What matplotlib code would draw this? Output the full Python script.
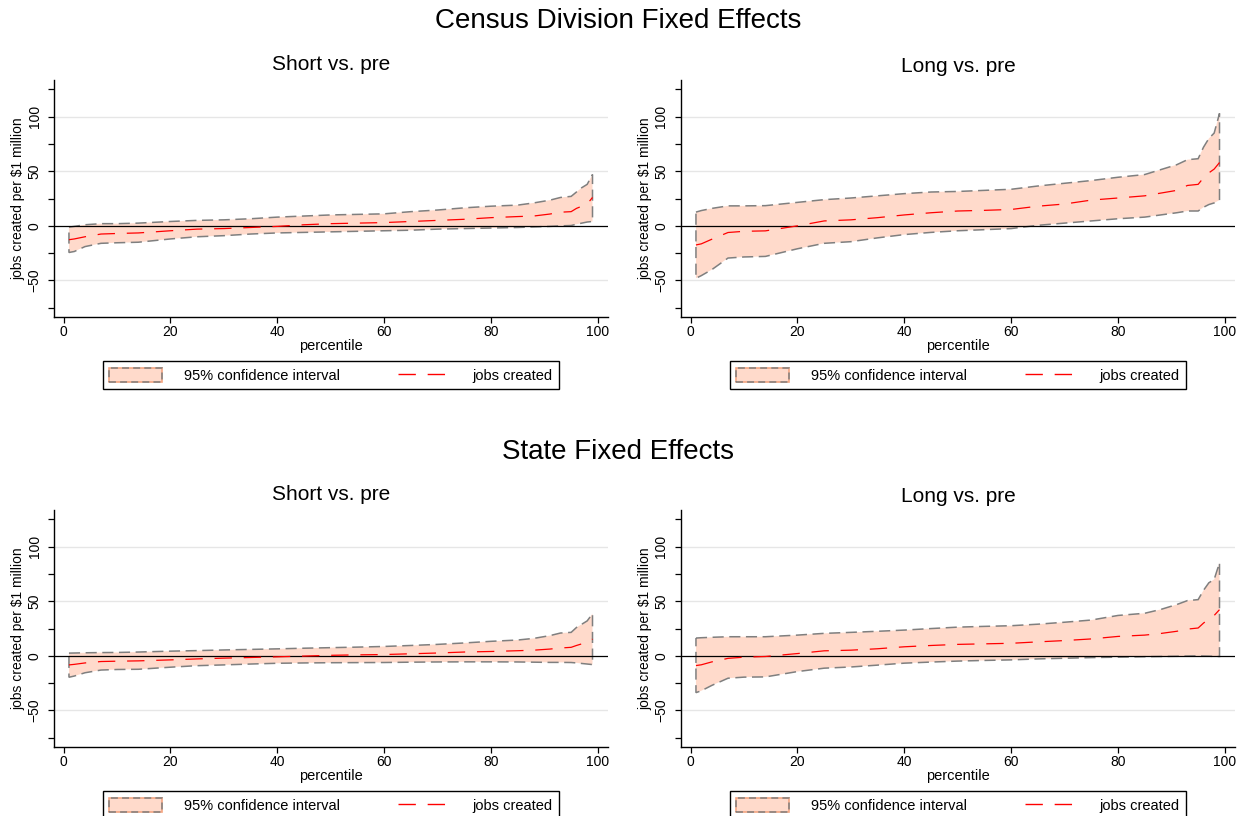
import matplotlib
matplotlib.use('Agg')
from matplotlib import pyplot as plt
from matplotlib.patches import Patch
from matplotlib.lines import Line2D
from matplotlib.legend_handler import HandlerTuple

plt.rcParams['font.family'] = ['Liberation Sans', 'DejaVu Sans']
plt.rcParams['lines.scale_dashes'] = False

pct = [1, 2, 4, 7, 10, 14, 20, 25, 30, 35, 40, 45, 50, 55, 60, 65, 70, 75, 80, 85, 88, 91, 93, 95, 96, 97, 98, 99]

# Census division fixed effects, short vs. pre
cd_short_mid = [-12.7, -12, -10, -7.5, -7, -6.5, -4.5, -3, -2.5, -1.5, -0.5, 1, 2, 2.5, 3, 4, 5, 6, 7.5, 8.5, 9, 10.8, 12.5, 13, 16, 18, 20, 26]
cd_short_lo = [-24.4, -23.5, -19, -16, -15.5, -15, -12, -10, -9, -7.5, -6.5, -6, -5.5, -5, -4.5, -4, -3, -2.5, -2, -1.5, -1, -0.5, 0, 0.3, 1.5, 2.5, 3.5, 4]
cd_short_hi = [-1.2, -0.5, 1, 2, 2, 2.5, 4, 5, 5.5, 6.5, 8, 9, 10, 10.5, 11, 13, 14.5, 16.5, 18, 19, 21, 23.5, 26, 27, 31, 35, 38, 47]

# Census division fixed effects, long vs. pre
cd_long_mid = [-17.5, -16.5, -12.2, -6.1, -5, -4.6, 0, 4.5, 5.5, 7.5, 10, 12, 13.6, 14.2, 15, 18, 20, 23.6, 25.5, 27.5, 30, 32.5, 37, 38, 44, 48.5, 52, 58]
cd_long_lo = [-48, -45.6, -40, -29.5, -28.5, -28, -21, -16, -14.5, -11, -8, -6, -4.5, -3.5, -2.5, 0.5, 2.5, 4.5, 6.5, 8, 10, 12, 13.6, 13.6, 17, 19.5, 21, 23.6]
cd_long_hi = [12.6, 14, 16, 18.3, 18.3, 18.5, 21.5, 24, 25.5, 27.5, 29.5, 31, 31.5, 32.5, 33.5, 36.5, 39, 41.5, 44.5, 47, 51.5, 56, 60.6, 61.5, 72, 80, 85, 103]

# State fixed effects, short vs. pre
st_short_mid = [-8.3, -7.8, -6.5, -5.2, -4.9, -4.6, -3.7, -2.8, -2.1, -1.5, -0.9, -0.2, 0.5, 0.9, 1.2, 1.9, 2.6, 3.5, 4, 4.7, 5.2, 6.2, 7.2, 7.8, 9.5, 11, 12.5, 15.3]
st_short_lo = [-19.6, -18.5, -15.5, -13, -12.5, -12.3, -10.4, -9, -8.3, -7.5, -6.8, -6.5, -6.3, -6.2, -6.1, -5.8, -5.6, -5.5, -5.5, -5.6, -5.8, -6, -6, -6.1, -6.5, -7, -7.5, -8]
st_short_hi = [2.5, 2.6, 2.8, 3, 3.1, 3.5, 4.3, 4.8, 5.4, 5.9, 6.4, 7, 7.5, 8, 8.6, 9.5, 10.5, 11.8, 13.3, 14.5, 16, 18.5, 20.9, 21.5, 26, 29, 32, 38.6]

# State fixed effects, long vs. pre
st_long_mid = [-8.9, -8.2, -5.5, -2.3, -1.2, -0.6, 2.1, 4.6, 5.2, 6.5, 8.3, 9.5, 10.5, 11, 11.5, 12.8, 14, 15.5, 17.8, 19, 20.5, 22.5, 24.5, 25.5, 30, 33.7, 37, 42.3]
st_long_lo = [-33.7, -32, -27, -20.5, -19.5, -19.3, -14.4, -11.3, -10.2, -8.5, -6.7, -5.7, -4.8, -4.2, -3.7, -2.8, -2.2, -1.6, -1.2, -0.8, -0.6, -0.4, -0.2, 0, -0.2, -0.3, -0.5, -0.6]
st_long_hi = [16.3, 16.6, 17, 17.5, 17.5, 17.5, 19, 20.6, 21.5, 22.5, 23.6, 25, 26.3, 27, 27.6, 29, 30.8, 32.8, 37, 39, 42.5, 47, 50.6, 51.5, 60, 66.9, 70, 85.3]

band_color = '#FFDACB'
W, H = 1237, 816


def draw_panel(rect, title, title_y, mid, lo, hi):
    ax = fig.add_axes(rect)
    ax.fill(pct + pct[::-1], hi + lo[::-1], facecolor=band_color, edgecolor='#7f7f7f',
            linewidth=1.1, linestyle=(0, (8, 4)), zorder=2)
    ax.axhline(0, color='black', linewidth=0.9, zorder=3)
    ax.plot(pct, mid, color='red', linewidth=0.9, linestyle=(0, (12.5, 8.5)), zorder=4)

    for y in [-50, 50, 100]:
        ax.axhline(y, color='#e6e6e6', linewidth=1, zorder=1)

    ax.set_xlim(-1.8, 101.9)
    ax.set_ylim(-83.5, 133.6)
    ax.set_xticks([0, 20, 40, 60, 80, 100])
    ax.set_yticks([-50, 0, 50, 100])
    ax.set_yticks([-75, -25, 25, 75, 125], minor=True)
    ax.tick_params(axis='x', labelsize=10, length=4, width=0.9, pad=2)
    ax.tick_params(axis='y', which='both', labelsize=10, length=4, width=0.9, pad=5)
    plt.setp(ax.get_yticklabels(), rotation=90, va='center')

    for side in ['top', 'right']:
        ax.spines[side].set_visible(False)
    for side in ['left', 'bottom']:
        ax.spines[side].set_linewidth(1.0)

    ax.set_xlabel('percentile', fontsize=10.5)
    ax.xaxis.set_label_coords(0.5, -0.093)
    ax.set_ylabel('jobs created per $1 million', fontsize=10)
    ax.yaxis.set_label_coords(-0.052, 0.5)
    ax.text(0.5, title_y, title, transform=ax.transAxes, ha='center', va='center', fontsize=15)

    band_handle = (Patch(facecolor=band_color, edgecolor='#f4a582', linewidth=1.2),
                   Patch(fill=False, edgecolor='#7f7f7f', linewidth=1.1, linestyle=(0, (5, 3))))
    line_handle = Line2D([], [], color='red', linewidth=1.0, linestyle=(0, (12.5, 8.5)))
    leg = ax.legend([band_handle, line_handle], ['95% confidence interval', 'jobs created'],
                    handler_map={tuple: HandlerTuple(ndivide=1, pad=0)},
                    loc='center', bbox_to_anchor=(0.5, -0.245), ncol=2, fontsize=10.5,
                    handlelength=3.6, handleheight=1.1, handletextpad=1.5, columnspacing=4.0,
                    borderpad=0.45, frameon=True, fancybox=False, framealpha=1)
    leg.get_frame().set_edgecolor('black')
    leg.get_frame().set_linewidth(1.0)
    return ax


fig = plt.figure(figsize=(W / 100, H / 100), dpi=100)

aw, ah = 554 / W, 237 / H
draw_panel([54 / W, 499 / H, aw, ah], 'Short vs. pre', 1.0675, cd_short_mid, cd_short_lo, cd_short_hi)
draw_panel([681 / W, 499 / H, aw, ah], 'Long vs. pre', 1.055, cd_long_mid, cd_long_lo, cd_long_hi)
draw_panel([54 / W, 69 / H, aw, ah], 'Short vs. pre', 1.0675, st_short_mid, st_short_lo, st_short_hi)
draw_panel([681 / W, 69 / H, aw, ah], 'Long vs. pre', 1.055, st_long_mid, st_long_lo, st_long_hi)

fig.text(0.5, 1 - 21 / H, 'Census Division Fixed Effects', ha='center', va='center', fontsize=20)
fig.text(0.5, 1 - 452 / H, 'State Fixed Effects', ha='center', va='center', fontsize=20)

plt.savefig('out.png', dpi=100)
